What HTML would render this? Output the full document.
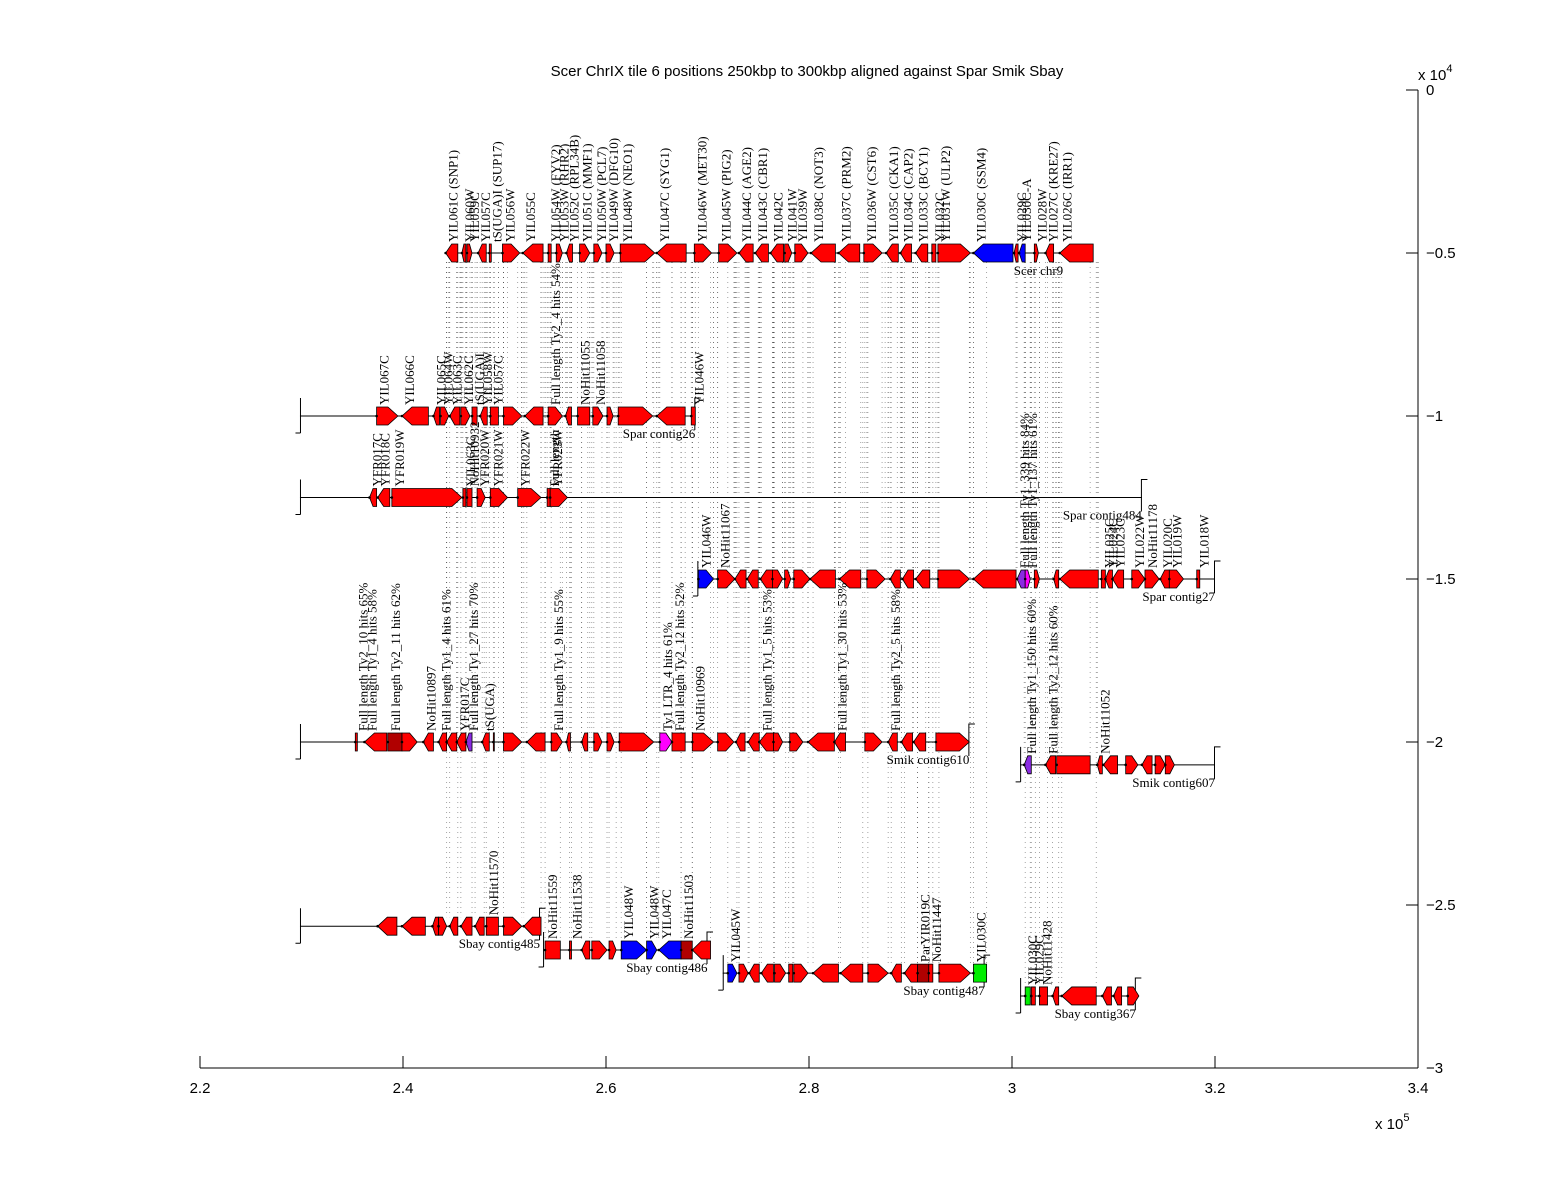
<!DOCTYPE html>
<html><head><meta charset="utf-8"><style>
html,body{margin:0;padding:0;background:#fff;}
svg{display:block;}
.t{font-family:"Liberation Serif",serif;font-size:13px;fill:#000;}
.a{font-family:"Liberation Sans",sans-serif;font-size:15px;fill:#000;}
</style></head><body>
<svg id="chart" width="1568" height="1200" viewBox="0 0 1568 1200" xmlns="http://www.w3.org/2000/svg">
<rect width="1568" height="1200" fill="#fff"/>
<text class="a" x="807" y="76" text-anchor="middle">Scer ChrIX tile 6 positions 250kbp to 300kbp aligned against Spar Smik Sbay</text>
<g id="axes"></g>
<g id="dots"></g>
<g id="tracks"></g>
</svg>
<script>
// x axis ticks (kbp) and y axis ticks
const xTicks = [220,240,260,280,300,320,340];
const xTickLabels = ["2.2","2.4","2.6","2.8","3","3.2","3.4"];
const yTicks = [0,-5000,-10000,-15000,-20000,-25000,-30000];
const yTickLabels = ["0","\u22120.5","\u22121","\u22121.5","\u22122","\u22122.5","\u22123"];

// track names, y values, contig line extents (kbp)
const trackNames = ["Scer chr9","Spar contig26","Spar contig484","Spar contig27","Smik contig610","Smik contig607","Sbay contig485","Sbay contig486","Sbay contig487","Sbay contig367"];
const trackY = [-5000,-10000,-12500,-15000,-20000,-20700,-25650,-26380,-27090,-27790];
const trackStart = [244.3,229.85,229.85,269.0,229.85,300.8,229.85,253.8,271.5,300.8];
const trackEnd = [308.0,268.8,312.8,320.0,295.8,320.0,253.5,270.0,297.3,312.2];

// genes: [start kbp, end kbp, direction(1 right,-1 left,0 box), color, label]
const genesScer = [
[244.2,245.4,-1,'r','YIL061C (SNP1)'],[245.8,246.2,-1,'r','YIL060W'],[246.3,246.8,1,'r','YIL059C'],
[247.4,248.2,-1,'r','YIL057C'],[248.5,248.7,0,'r','tS(UGA)I (SUP17)'],[249.8,251.5,1,'r','YIL056W'],
[251.8,253.8,-1,'r','YIL055C'],[254.3,254.6,0,'r','YIL054W (FYV2)'],[255.1,255.7,1,'r','YIL053W (RHR2)'],
[256.1,256.7,-1,'r','YIL052C (RPL34B)'],[257.4,258.4,1,'r','YIL051C (MMF1)'],[258.8,259.6,1,'r','YIL050W (PCL7)'],
[260.0,260.8,1,'r','YIL049W (DFG10)'],[261.4,264.8,1,'r','YIL048W (NEO1)'],[265.0,267.9,-1,'r','YIL047C (SYG1)'],
[268.7,270.4,1,'r','YIL046W (MET30)'],[271.1,272.9,1,'r','YIL045W (PIG2)'],[273.1,274.5,-1,'r','YIL044C (AGE2)'],
[274.7,276.0,-1,'r','YIL043C (CBR1)'],[276.2,277.5,-1,'r','YIL042C'],[277.6,278.3,1,'r','YIL041W'],
[278.6,279.9,1,'r','YIL039W'],[280.2,282.6,-1,'r','YIL038C (NOT3)'],[282.9,285.0,-1,'r','YIL037C (PRM2)'],
[285.4,287.2,1,'r','YIL036W (CST6)'],[287.6,288.8,-1,'r','YIL035C (CKA1)'],[289.0,290.1,-1,'r','YIL034C (CAP2)'],
[290.5,291.7,-1,'r','YIL033C (BCY1)'],[292.1,292.5,0,'r','YIL032C'],[292.7,295.9,1,'r','YIL031W (ULP2)'],
[296.2,300.1,-1,'b','YIL030C (SSM4)'],[300.2,300.6,-1,'r','YIL029C'],[300.7,301.3,-1,'b','YIL030C-A'],
[302.2,302.6,1,'r','YIL028W'],[303.3,304.1,-1,'r','YIL027C (KRE27)'],[304.7,308.0,-1,'r','YIL026C (IRR1)']];
const genesSpar26 = [
[237.4,239.5,1,'r','YIL067C'],[239.9,242.5,-1,'r','YIL066C'],[243.0,243.6,-1,'r','YIL065C'],
[243.7,244.5,1,'r','YIL064W'],[244.6,245.6,-1,'r','YIL063C'],[245.7,246.6,1,'r','YIL062C'],
[246.8,247.3,0,'r','tS(UGA)I'],[247.6,248.3,-1,'r','YIL058W'],[248.6,249.4,0,'r','YIL057C'],
[249.9,251.7,1,'r',''],[252.0,253.8,-1,'r',''],[254.3,255.7,1,'r','Full length Ty2_4 hits 54%'],
[256.0,256.6,-1,'r',''],[257.2,258.4,0,'r','NoHit11055'],[258.7,259.7,1,'r','NoHit11058'],
[260.1,260.7,1,'r',''],[261.2,264.6,1,'r',''],[265.0,267.8,-1,'r',''],[268.4,268.8,0,'r','YIL046W']];
const genesSpar484 = [
[236.7,237.4,-1,'r','YFR017C'],[237.5,238.7,-1,'r','YFR018C'],[238.9,245.8,1,'r','YFR019W'],
[245.9,246.2,0,'r','YIL063C'],[246.3,246.8,0,'r','NoHit10932'],[247.3,248.1,1,'r','YFR020W'],
[248.6,250.3,1,'r','YFR021W'],[251.3,253.6,1,'r','YFR022W'],[254.2,254.5,0,'r','Full length'],
[254.5,256.2,1,'r','YFR023W']];
const genesSpar27 = [
[269.1,270.6,1,'b','YIL046W'],[271.0,272.7,1,'r','NoHit11067'],[272.7,273.8,-1,'r',''],
[273.9,275.0,-1,'r',''],[275.2,276.4,-1,'r',''],[276.4,277.4,1,'r',''],[277.6,278.2,1,'r',''],
[278.5,280.1,1,'r',''],[280.1,282.6,-1,'r',''],[283.0,285.1,-1,'r',''],[285.7,287.5,1,'r',''],
[288.0,289.0,-1,'r',''],[289.2,290.3,-1,'r',''],[290.5,291.9,-1,'r',''],[292.7,295.8,1,'r',''],
[296.2,300.4,-1,'r',''],[300.5,301.3,-1,'p','Full length Ty1_339 hits 84%'],[301.3,301.8,1,'m','Full length Ty1_137 hits 61%'],
[302.2,302.7,1,'r',''],[304.1,304.6,-1,'r',''],[304.7,308.5,-1,'r',''],[308.8,309.2,0,'r','YIL025C'],
[309.2,309.9,-1,'r','YIL024C'],[309.9,311.0,-1,'r','YIL023C'],[311.8,313.1,1,'r','YIL022W'],
[313.1,314.5,1,'r','NoHit11178'],[314.6,315.5,-1,'r','YIL020C'],[315.5,316.9,1,'r','YIL019W'],
[318.2,318.5,0,'r','YIL018W']];
const genesSmik610 = [
[235.3,235.5,0,'r','Full length Ty2_10 hits 65%'],[236.2,238.4,-1,'r','Full length Ty1_4 hits 58%'],
[238.5,239.9,0,'d','Full length Ty2_11 hits 62%'],[239.9,241.4,1,'r',''],[242.0,243.0,-1,'r','NoHit10897'],
[243.5,244.3,-1,'r','Full length Ty1_4 hits 61%'],[244.3,245.3,-1,'r',''],[245.3,246.2,-1,'r','YFR017C'],
[246.2,246.8,-1,'p','Full length Ty1_27 hits 70%'],[247.8,248.5,-1,'r','tS(UGA)'],[248.9,249.0,0,'r',''],
[249.9,251.7,1,'r',''],[252.2,254.0,-1,'r',''],[254.6,255.7,1,'r','Full length Ty1_9 hits 55%'],
[256.1,256.5,-1,'r',''],[257.6,258.2,-1,'r',''],[258.8,259.6,1,'r',''],[260.1,260.8,1,'r',''],
[261.3,264.7,1,'r',''],[265.3,266.5,1,'m','Ty1 LTR_4 hits 61%'],[266.5,267.8,0,'r','Full length Ty2_12 hits 52%'],
[268.5,270.6,1,'r','NoHit10969'],[271.0,272.6,1,'r',''],[272.8,273.7,-1,'r',''],[274.0,275.1,-1,'r',''],
[275.1,276.5,-1,'r','Full length Ty1_5 hits 53%'],[276.5,277.4,1,'r',''],[278.1,279.4,1,'r',''],
[279.9,282.5,-1,'r',''],[282.5,283.6,-1,'r','Full length Ty1_30 hits 53%'],[285.5,287.2,1,'r',''],
[287.8,288.7,-1,'r','Full length Ty2_5 hits 58%'],[289.1,290.2,-1,'r',''],[290.3,291.5,-1,'r',''],
[292.5,295.8,1,'r','']];
const genesSmik607 = [
[301.2,301.9,-1,'p','Full length Ty1_150 hits 60%'],[303.3,304.3,-1,'r','Full length Ty2_12 hits 60%'],
[304.4,307.7,0,'r',''],[308.4,308.9,-1,'r','NoHit11052'],[309.0,310.4,-1,'r',''],[311.2,312.4,1,'r',''],
[312.8,313.8,-1,'r',''],[314.1,315.1,1,'r',''],[315.1,316.0,1,'r','']];
const genesSbay485 = [
[237.5,239.4,-1,'r',''],[239.9,242.2,-1,'r',''],[242.9,243.5,-1,'r',''],[243.5,244.3,1,'r',''],
[244.6,245.4,-1,'r',''],[245.7,246.8,-1,'r',''],[247.1,248.0,-1,'r',''],[248.2,249.4,0,'r','NoHit11570'],
[249.9,251.7,1,'r',''],[251.9,253.6,-1,'r','']];
const genesSbay486 = [
[254.0,255.5,0,'r','NoHit11559'],[256.4,256.6,0,'r','NoHit11538'],[257.6,258.4,-1,'r',''],
[258.6,260.1,1,'r',''],[260.3,261.0,1,'r',''],[261.5,264.0,1,'b','YIL048W'],[264.0,265.0,1,'b','YIL048W'],
[265.2,267.4,-1,'b','YIL047C'],[267.4,268.5,0,'d','NoHit11503'],[268.5,270.3,-1,'r','']];
const genesSbay487 = [
[272.0,272.9,1,'b','YIL045W'],[273.1,274.0,1,'r',''],[274.1,275.1,-1,'r',''],[275.3,276.5,-1,'r',''],
[276.6,277.7,1,'r',''],[278.0,278.4,0,'r',''],[278.5,279.9,1,'r',''],[280.4,282.9,-1,'r',''],
[283.1,285.3,-1,'r',''],[285.8,287.8,1,'r',''],[288.1,289.1,-1,'r',''],[289.4,290.7,-1,'r',''],
[290.7,291.8,0,'d','ParYIR019C'],[291.8,292.2,0,'r','NoHit11447'],[292.8,295.9,1,'r',''],[296.2,297.5,0,'g','YIL030C']];
const genesSbay367 = [
[301.3,301.8,0,'g','YIL030C'],[301.9,302.3,0,'r','YIL029C'],[302.7,303.5,0,'r','NoHit11428'],
[304.0,304.6,-1,'r',''],[304.9,308.3,-1,'r',''],[308.9,309.8,-1,'r',''],[310.0,310.8,-1,'r',''],
[311.4,312.5,1,'r','']];

const allGenes = [genesScer,genesSpar26,genesSpar484,genesSpar27,genesSmik610,genesSmik607,genesSbay485,genesSbay486,genesSbay487,genesSbay367];
const COL = {r:'#ff0000',b:'#0000ff',m:'#ff00ff',p:'#8a2be2',g:'#00ee00',d:'#b00000'};
const NS = 'http://www.w3.org/2000/svg';
function X(k){ return 200 + (k-220)*(1218/120); }
function Y(v){ return 90 + (-v)*(978/30000); }
function mk(tag, attrs, parent){ const e=document.createElementNS(NS,tag); for(const k in attrs) e.setAttribute(k,attrs[k]); parent.appendChild(e); return e; }

const axes=document.getElementById('axes');
let el=mk('line',{x1:200,y1:1068,x2:1418,y2:1068,stroke:'#000'},axes);


el=mk('line',{x1:1418,y1:90,x2:1418,y2:1068,stroke:'#000'},axes);


xTicks.forEach((t,i)=>{
  const x=X(t);
  el=mk('line',{x1:x,y1:1068,x2:x,y2:1056,stroke:'#000'},axes);
  
  
  el=mk('text',{x:x,y:1093,'text-anchor':'middle',class:'a'},axes);
  el.textContent=xTickLabels[i];
  
  
});
yTicks.forEach((t,i)=>{
  const y=Y(t);
  el=mk('line',{x1:1406,y1:y,x2:1418,y2:y,stroke:'#000'},axes);
  
  
  el=mk('text',{x:1426,y:y+5,class:'a'},axes);
  el.textContent=yTickLabels[i];
  
  
});
el=mk('text',{x:1418,y:80,class:'a'},axes); el.innerHTML='x 10<tspan dy="-8" font-size="11">4</tspan>';


el=mk('text',{x:1375,y:1129,class:'a'},axes); el.innerHTML='x 10<tspan dy="-8" font-size="11">5</tspan>';



// dotted connectors
const dots=document.getElementById('dots');
const yScer=Y(trackY[0])+9;
for(let ti=1;ti<allGenes.length;ti++){
  const ty=Y(trackY[ti])-9;
  allGenes[ti].forEach(g=>{
    [g[0],g[1]].forEach(k=>{
      if(k<244||k>308.5) return;
      el=mk('line',{x1:X(k),y1:yScer,x2:X(k),y2:ty,stroke:'#333','stroke-width':0.8,'stroke-dasharray':'1,4',opacity:0.55},dots);
      
      
    });
  });
}

// tracks
const tracks=document.getElementById('tracks');
allGenes.forEach((genes,ti)=>{
  const g=mk('g',{},tracks);
  
  
  const y=Y(trackY[ti]);
  const xs=X(trackStart[ti]), xe=X(trackEnd[ti]);
  el=mk('line',{x1:xs,y1:y,x2:xe,y2:y,stroke:'#000'},g);
  
  
  if(ti>0){
    el=mk('path',{d:`M${xs+0.5},${y-18} V${y+17} M${xs+0.5},${y+17} h-5`,stroke:'#000',fill:'none'},g);
    
    
    el=mk('path',{d:`M${xe-0.5},${y+14} V${y-18} h6`,stroke:'#000',fill:'none'},g);
    
    
  }
  genes.forEach(gn=>{
    const a=X(gn[0]), b=X(gn[1]), h=9, dir=gn[2];
    const t=Math.min(10,(b-a)*0.5);
    let pts;
    if(dir>0) pts=`${a},${y-h} ${b-t},${y-h} ${b},${y} ${b-t},${y+h} ${a},${y+h}`;
    else if(dir<0) pts=`${b},${y-h} ${a+t},${y-h} ${a},${y} ${a+t},${y+h} ${b},${y+h}`;
    else pts=`${a},${y-h} ${b},${y-h} ${b},${y+h} ${a},${y+h}`;
    el=mk('polygon',{points:pts,fill:COL[gn[3]],stroke:'#000','stroke-width':0.8},g);
    
    
    mk('circle',{cx:a,cy:y,r:1.3,fill:'#000'},g);
    if(gn[4]){
      const lx=a+12, ly=y-11;
      el=mk('text',{x:lx,y:ly,class:'t',transform:`rotate(-90 ${lx} ${ly})`},g);
      el.textContent=gn[4];
      
      
    }
  });
  const lx = ti===0 ? xe-30 : xe;
  el=mk('text',{x:lx,y:y+22,'text-anchor':'end',class:'t'},g);
  el.textContent=trackNames[ti];
  
  
});
</script>
</body></html>
